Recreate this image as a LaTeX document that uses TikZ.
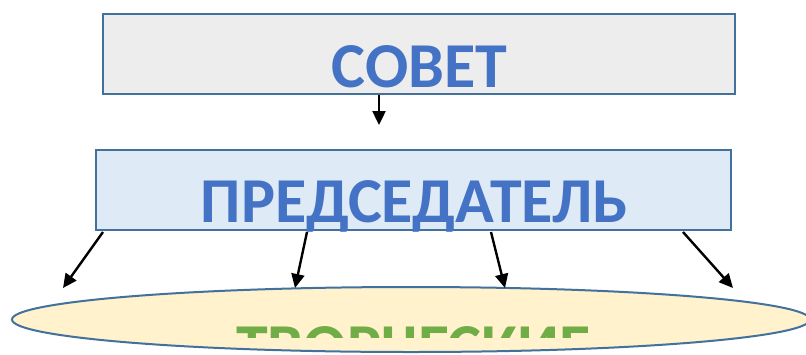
\documentclass[tikz,border=0pt]{standalone}
\usepackage{fontspec}
\setmainfont{Carlito}
\usetikzlibrary{shapes.geometric,arrows.meta}
\definecolor{bordc}{HTML}{41719C}
\definecolor{txtblue}{HTML}{4472C4}
\definecolor{txtgreen}{HTML}{70AD47}
\definecolor{fillgray}{HTML}{EDEDED}
\definecolor{fillblue}{HTML}{DEEBF7}
\definecolor{fillyel}{HTML}{FFF2CC}
\tikzset{
  boxstyle/.style={draw=bordc, line width=2pt, rectangle, inner sep=0pt},
  bigtext/.style={font=\fontsize{64}{76}\selectfont\bfseries, anchor=base, inner sep=0pt},
  arr/.style={-{Triangle[length=14pt,width=13pt]}, line width=2.4pt, black},
}
\begin{document}
\begin{tikzpicture}[x=1pt,y=-1pt]
\clip (0,0) rectangle (806,354);
\fill[white] (0,0) rectangle (806,354);
\node[boxstyle, fill=fillgray, minimum width=632pt, minimum height=80pt] (sovet) at (419,54) {};
\node[bigtext, text=txtblue] (sovettxt) at (419,87) {СОВЕТ};
\node[boxstyle, fill=fillblue, minimum width=635pt, minimum height=80pt] (pred) at (413.5,190) {};
\node[bigtext, text=txtblue] (predtxt) at (414.5,222) {ПРЕДСЕДАТЕЛЬ};
\node[ellipse, draw=bordc, line width=2pt, fill=fillyel, minimum width=798pt, minimum height=65pt, inner sep=0pt] (tvor) at (411,319.5) {};
\begin{scope}
\clip (0,0) rectangle (806,337);
\node[bigtext, text=txtgreen] (tvortxt) at (413.5,368) {ТВОРЧЕСКИЕ};
\end{scope}
% arrow coordinates
\coordinate (a0s) at (379,95);
\coordinate (a0e) at (379,125);
\coordinate (a1s) at (103,232);
\coordinate (a1e) at (63,288);
\coordinate (a2s) at (307,232);
\coordinate (a2e) at (295,288);
\coordinate (a3s) at (491,232);
\coordinate (a3e) at (505,288);
\coordinate (a4s) at (683,232);
\coordinate (a4e) at (733,288);
\draw[arr] (a0s) -- (a0e);
\draw[arr] (a1s) -- (a1e);
\draw[arr] (a2s) -- (a2e);
\draw[arr] (a3s) -- (a3e);
\draw[arr] (a4s) -- (a4e);
\end{tikzpicture}
\end{document}
